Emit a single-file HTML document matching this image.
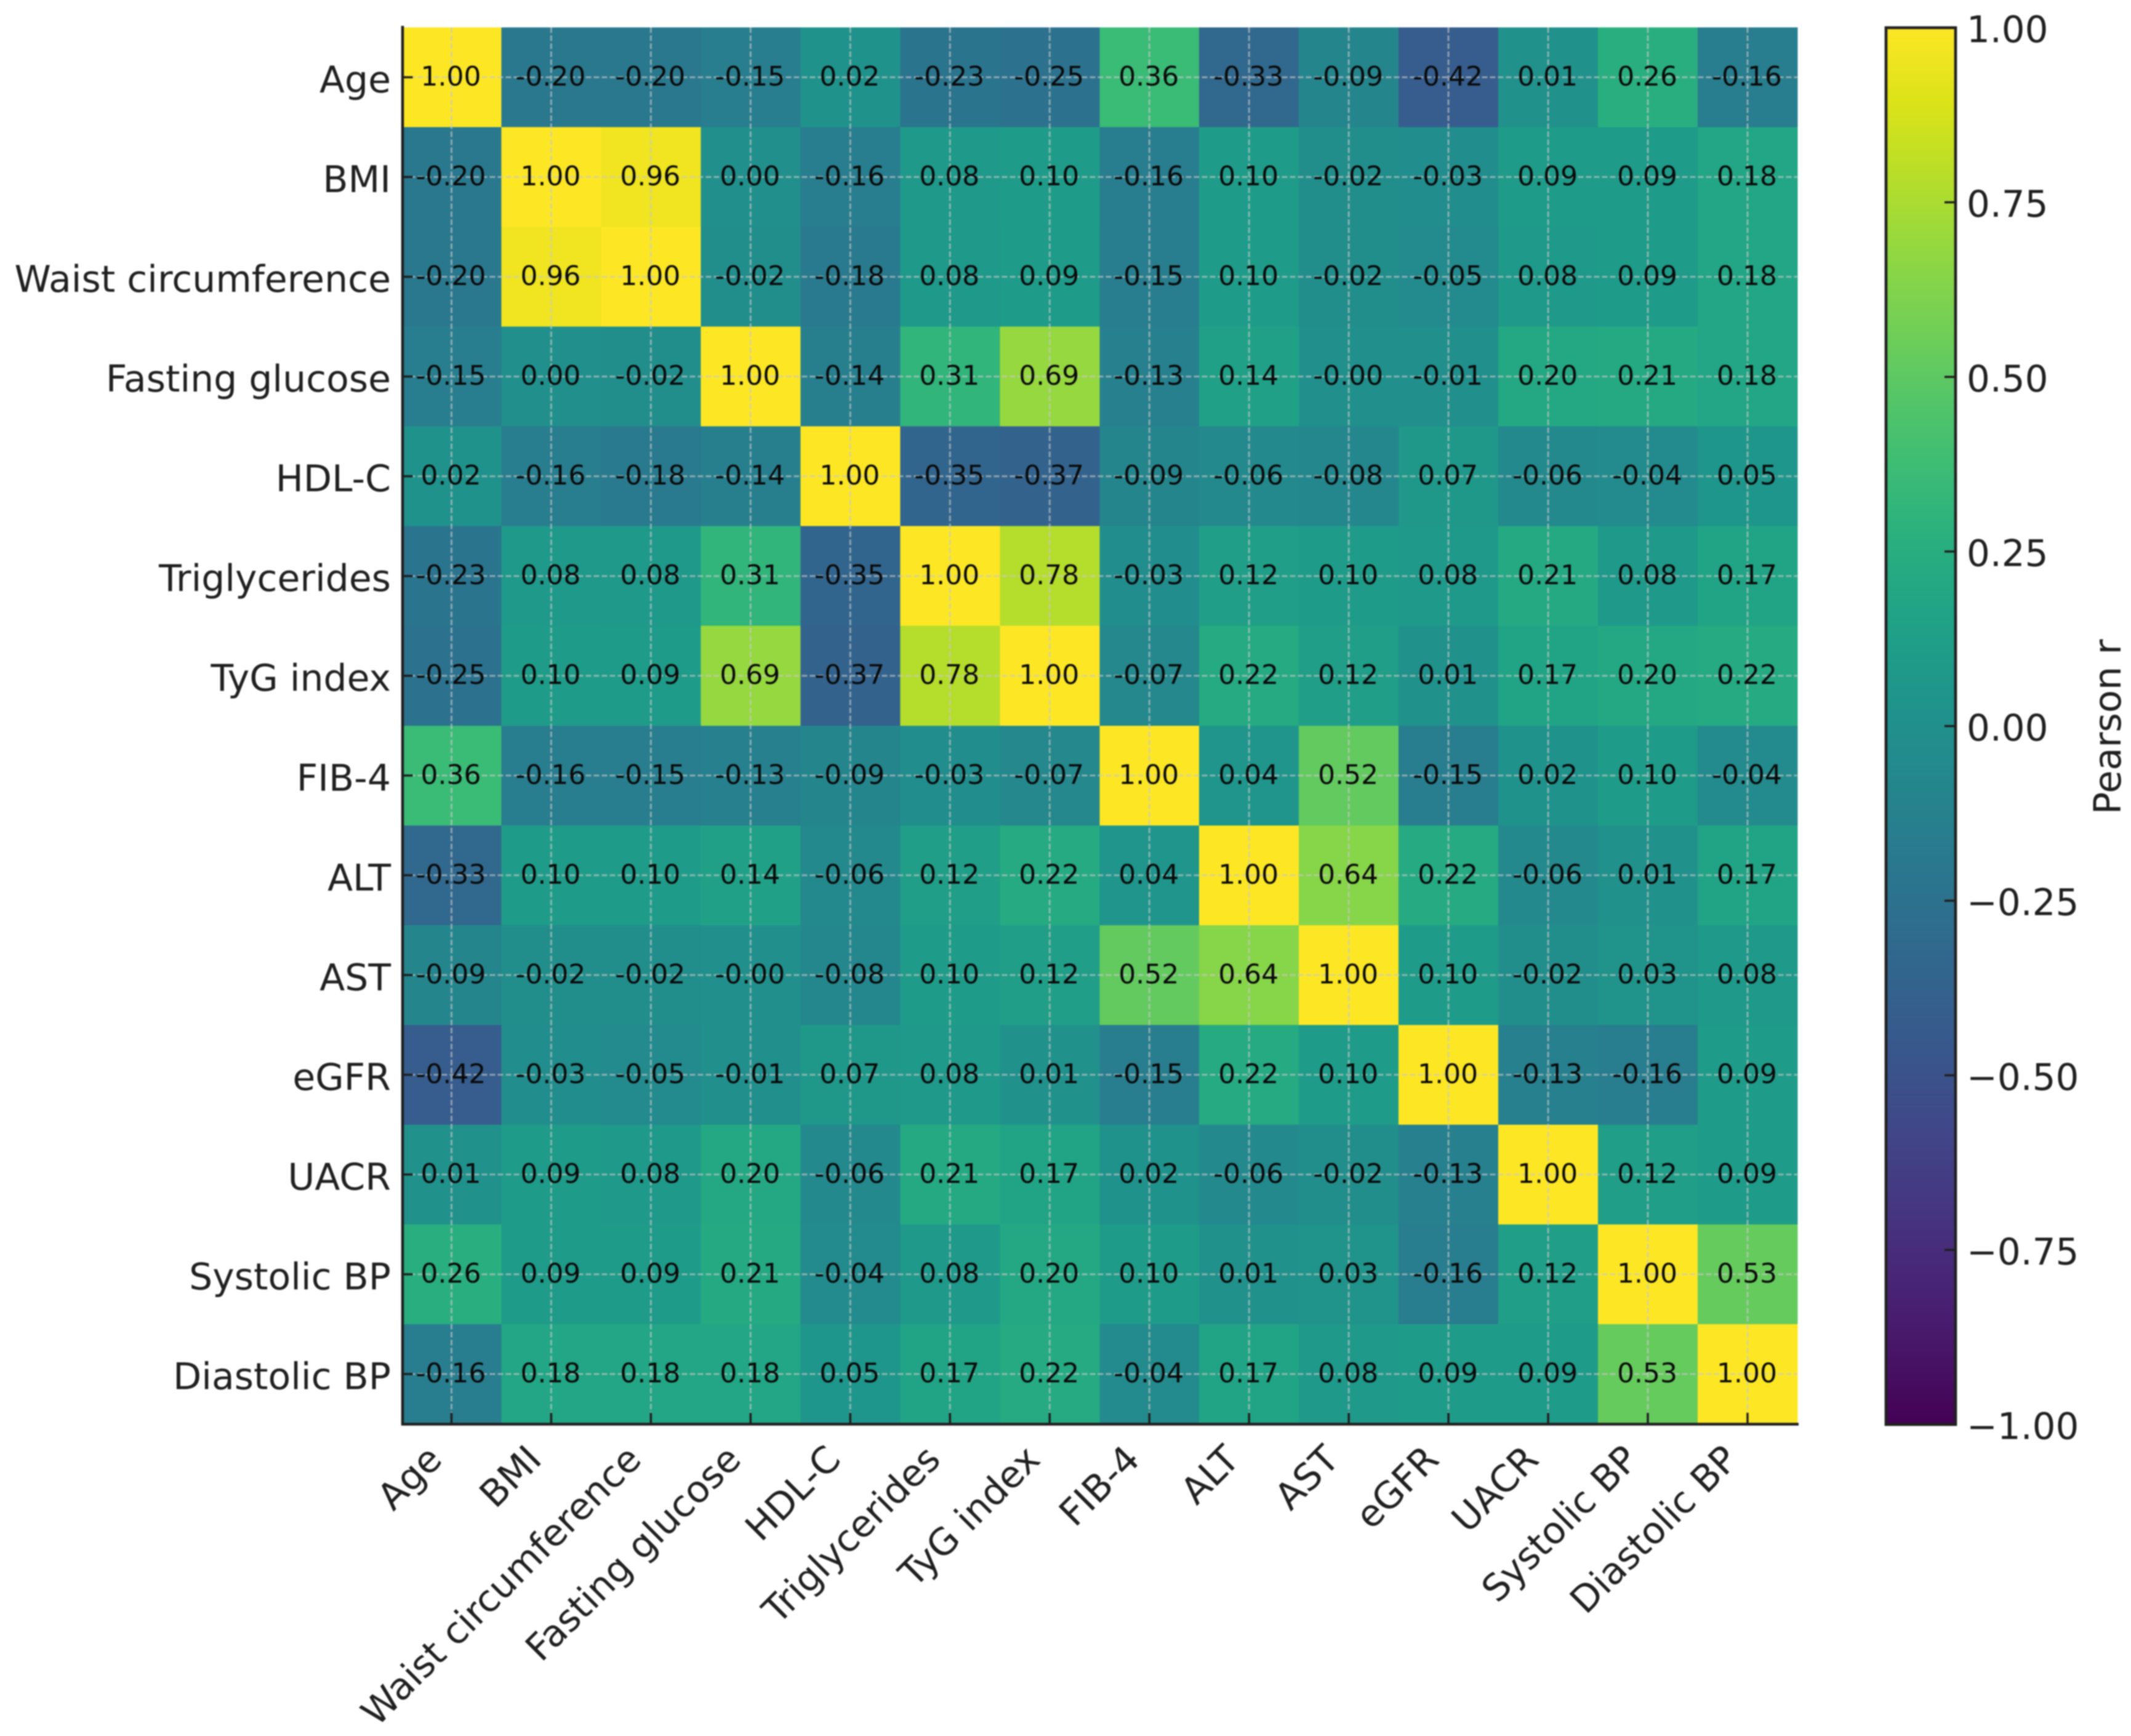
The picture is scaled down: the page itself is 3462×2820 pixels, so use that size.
<!DOCTYPE html>
<html lang="en">
<head>
<meta charset="utf-8">
<title>Pearson correlation heatmap</title>
<style>
html,body{margin:0;padding:0;background:#fff;width:3462px;height:2820px;overflow:hidden}
svg{display:block;filter:blur(1px)}
text{font-family:"DejaVu Sans","Liberation Sans",sans-serif}
</style>
</head>
<body>
<svg id="chart" xmlns="http://www.w3.org/2000/svg" width="3462" height="2820" viewBox="0 0 3462 2820">
<rect x="0" y="0" width="3462" height="2820" fill="#ffffff"/>
<defs><linearGradient id="cbGrad" x1="0" y1="1" x2="0" y2="0"></linearGradient></defs>
<g id="cells"></g>
<g id="grid"></g>
<g id="annots"></g>
<g id="axes"></g>
<g id="colorbar"></g>
</svg>
<script>
// ----- data -----
const categories = ["Age","BMI","Waist circumference","Fasting glucose","HDL-C","Triglycerides","TyG index","FIB-4","ALT","AST","eGFR","UACR","Systolic BP","Diastolic BP"];
const rowAge      = [1.00,-0.20,-0.20,-0.15,0.02,-0.23,-0.25,0.36,-0.33,-0.09,-0.42,0.01,0.26,-0.16];
const rowBMI      = [-0.20,1.00,0.96,0.00,-0.16,0.08,0.10,-0.16,0.10,-0.02,-0.03,0.09,0.09,0.18];
const rowWaist    = [-0.20,0.96,1.00,-0.02,-0.18,0.08,0.09,-0.15,0.10,-0.02,-0.05,0.08,0.09,0.18];
const rowGlucose  = [-0.15,0.00,-0.02,1.00,-0.14,0.31,0.69,-0.13,0.14,-0.001,-0.01,0.20,0.21,0.18];
const rowHDL      = [0.02,-0.16,-0.18,-0.14,1.00,-0.35,-0.37,-0.09,-0.06,-0.08,0.07,-0.06,-0.04,0.05];
const rowTrig     = [-0.23,0.08,0.08,0.31,-0.35,1.00,0.78,-0.03,0.12,0.10,0.08,0.21,0.08,0.17];
const rowTyG      = [-0.25,0.10,0.09,0.69,-0.37,0.78,1.00,-0.07,0.22,0.12,0.01,0.17,0.20,0.22];
const rowFIB4     = [0.36,-0.16,-0.15,-0.13,-0.09,-0.03,-0.07,1.00,0.04,0.52,-0.15,0.02,0.10,-0.04];
const rowALT      = [-0.33,0.10,0.10,0.14,-0.06,0.12,0.22,0.04,1.00,0.64,0.22,-0.06,0.01,0.17];
const rowAST      = [-0.09,-0.02,-0.02,-0.001,-0.08,0.10,0.12,0.52,0.64,1.00,0.10,-0.02,0.03,0.08];
const rowEGFR     = [-0.42,-0.03,-0.05,-0.01,0.07,0.08,0.01,-0.15,0.22,0.10,1.00,-0.13,-0.16,0.09];
const rowUACR     = [0.01,0.09,0.08,0.20,-0.06,0.21,0.17,0.02,-0.06,-0.02,-0.13,1.00,0.12,0.09];
const rowSystolic = [0.26,0.09,0.09,0.21,-0.04,0.08,0.20,0.10,0.01,0.03,-0.16,0.12,1.00,0.53];
const rowDiastolic= [-0.16,0.18,0.18,0.18,0.05,0.17,0.22,-0.04,0.17,0.08,0.09,0.09,0.53,1.00];
const correlations = [rowAge,rowBMI,rowWaist,rowGlucose,rowHDL,rowTrig,rowTyG,rowFIB4,rowALT,rowAST,rowEGFR,rowUACR,rowSystolic,rowDiastolic];
const colorbarTicks = [-1,-0.75,-0.5,-0.25,0,0.25,0.5,0.75,1];
const colorbarTitle = "Pearson r";
const viridisStops = ["#440154","#481568","#482677","#453781","#404788","#39568C","#33638D","#2D708E","#287D8E","#238A8D","#1F968B","#20A386","#29AF7F","#3CBC75","#56C667","#74D055","#94D840","#B8DE29","#DCE318","#FDE725"];

// ----- layout -----
const SVGNS = "http://www.w3.org/2000/svg";
const plot = {left:652.5, right:2920, top:44.5, bottom:2313};
const bar = {left:3064, right:3177, top:45, bottom:2314};
const vMin = -1, vMax = 1;
const n = categories.length;
const cellW = (plot.right - plot.left) / n;
const cellH = (plot.bottom - plot.top) / n;
const INK = "#1f1f1f";

// ----- axis functions -----
function xEdge(i){ return plot.left + i * cellW; }
function yEdge(i){ return plot.top + i * cellH; }
function xCenter(i){ return xEdge(i) + cellW / 2; }
function yCenter(i){ return yEdge(i) + cellH / 2; }
function barY(v){ return bar.bottom - (v - vMin) / (vMax - vMin) * (bar.bottom - bar.top); }
function hexToRgb(h){ return [1,3,5].map(function(k){ return parseInt(h.substr(k,2),16); }); }
function colorScale(v){
  const t = Math.max(0, Math.min(1, (v - vMin) / (vMax - vMin))) * (viridisStops.length - 1);
  const i = Math.min(Math.floor(t), viridisStops.length - 2);
  const f = t - i;
  const a = hexToRgb(viridisStops[i]), b = hexToRgb(viridisStops[i + 1]);
  return "rgb(" + a.map(function(c,k){ return Math.round(c + (b[k] - c) * f); }).join(",") + ")";
}
function make(tag, parent){
  const el = document.createElementNS(SVGNS, tag);
  parent.appendChild(el);
  return el;
}
function setAll(el, props){
  Object.keys(props).forEach(function(k){ el.setAttribute(k, props[k]); });
  return el;
}

const gCells = document.getElementById("cells");
const gGrid = document.getElementById("grid");
const gAnnots = document.getElementById("annots");
const gAxes = document.getElementById("axes");
const gBar = document.getElementById("colorbar");

// ----- heatmap cells and annotations -----
correlations.forEach(function(row, r){
  row.forEach(function(v, c){
    const cell = make("rect", gCells);
    setAll(cell, {x:xEdge(c), y:yEdge(r), width:cellW + 0.5, height:cellH + 0.5, fill:colorScale(v), "shape-rendering":"crispEdges"});
    
    

    const label = make("text", gAnnots);
    setAll(label, {x:xCenter(c) - 1, y:yCenter(r) + 13.5, "text-anchor":"middle", "font-size":44, fill:"#0a0a0a"});
    label.textContent = v.toFixed(2);
    
    
  });
});

// ----- gridlines, ticks, tick labels -----
categories.forEach(function(name, i){
  const vLine = make("line", gGrid);
  setAll(vLine, {x1:xCenter(i), x2:xCenter(i), y1:plot.top, y2:plot.bottom, stroke:"rgba(200,200,200,0.62)", "stroke-width":3, "stroke-dasharray":"9 4"});
  
  

  const hLine = make("line", gGrid);
  setAll(hLine, {x1:plot.left, x2:plot.right, y1:yCenter(i), y2:yCenter(i), stroke:"rgba(200,200,200,0.62)", "stroke-width":3, "stroke-dasharray":"9 4"});
  
  

  const yTick = make("line", gAxes);
  setAll(yTick, {x1:plot.left, x2:plot.left + 18, y1:yCenter(i), y2:yCenter(i), stroke:INK, "stroke-width":3.5});
  
  

  const xTick = make("line", gAxes);
  setAll(xTick, {x1:xCenter(i), x2:xCenter(i), y1:plot.bottom, y2:plot.bottom - 18, stroke:INK, "stroke-width":3.5});
  
  

  const yLabel = make("text", gAxes);
  setAll(yLabel, {x:635, y:yCenter(i) + 24.5, "text-anchor":"end", "font-size":60, fill:INK});
  yLabel.textContent = name;
  
  

  const xLabel = make("text", gAxes);
  const ax = xCenter(i) - 12.5, ay = 2374;
  setAll(xLabel, {x:ax, y:ay, "text-anchor":"end", "font-size":60, fill:INK, transform:"rotate(-45 " + ax + " " + ay + ")"});
  xLabel.textContent = name;
  
  
});

// ----- spines -----
const leftSpine = make("line", gAxes);
setAll(leftSpine, {x1:654, x2:654, y1:42, y2:2315.5, stroke:INK, "stroke-width":4.5});



const bottomSpine = make("line", gAxes);
setAll(bottomSpine, {x1:652, x2:2922, y1:2313.5, y2:2313.5, stroke:INK, "stroke-width":4.5});



// ----- colorbar -----
const grad = document.getElementById("cbGrad");
viridisStops.forEach(function(hex, i){
  const stop = make("stop", grad);
  stop.setAttribute("offset", i / (viridisStops.length - 1));
  stop.setAttribute("stop-color", hex);
});
const barRect = make("rect", gBar);
setAll(barRect, {x:bar.left, y:bar.top, width:bar.right - bar.left, height:bar.bottom - bar.top, fill:"url(#cbGrad)", stroke:INK, "stroke-width":4.6});



colorbarTicks.forEach(function(v){
  const tick = make("line", gBar);
  setAll(tick, {x1:bar.right - 18, x2:bar.right, y1:barY(v), y2:barY(v), stroke:INK, "stroke-width":3.5});
  
  

  const label = make("text", gBar);
  setAll(label, {x:3195, y:barY(v) + 23.5, "font-size":59.5, fill:INK});
  label.textContent = (v < 0 ? "\u2212" : "") + Math.abs(v).toFixed(2);
  
  
});

const barTitle = make("text", gBar);
setAll(barTitle, {x:3445, y:1323, "font-size":60.5, fill:INK, transform:"rotate(-90 3445 1323)"});
barTitle.textContent = colorbarTitle;


</script>
</body>
</html>
